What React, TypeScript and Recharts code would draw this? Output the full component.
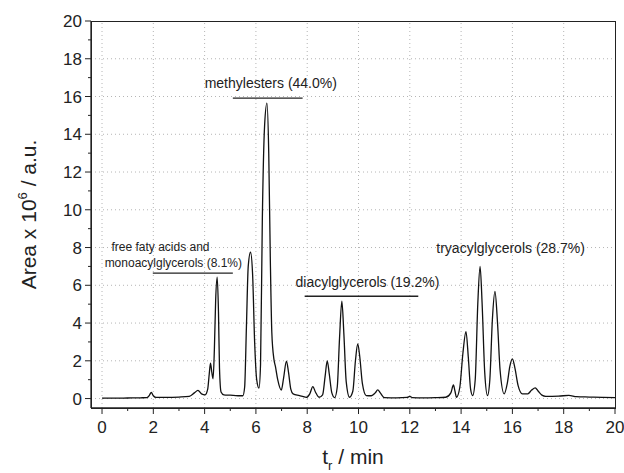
import React from 'react';
import {
  LineChart,
  Line,
  XAxis,
  YAxis,
  ReferenceLine,
  ReferenceDot,
} from 'recharts';

// chromatogram trace: retention time (min) and area (x10^6)
const time = [
  0.0, 0.5, 1.0, 1.5, 1.75, 1.85, 1.92, 2.0, 2.1, 2.5, 3.0, 3.4, 3.6, 3.74, 3.88, 4.02,
  4.12, 4.18, 4.23, 4.28, 4.33, 4.38, 4.43, 4.49, 4.54, 4.58, 4.64, 4.75, 5.0, 5.3, 5.49,
  5.56, 5.63, 5.7, 5.79, 5.87, 5.95, 6.03, 6.12, 6.18, 6.25, 6.34, 6.43, 6.5, 6.56, 6.62,
  6.7, 6.76, 6.85, 6.99, 7.08, 7.19, 7.27, 7.36, 7.45, 7.7, 7.85, 7.96, 8.1, 8.22, 8.32,
  8.46, 8.6, 8.7, 8.78, 8.86, 8.96, 9.07, 9.17, 9.26, 9.35, 9.43, 9.52, 9.65, 9.78, 9.88,
  9.97, 10.05, 10.15, 10.3, 10.5, 10.65, 10.75, 10.85, 11.01, 11.5, 11.9, 12.0, 12.1, 12.5,
  13.0, 13.4, 13.6, 13.7, 13.76, 13.82, 13.95, 14.07, 14.19, 14.28, 14.37, 14.45, 14.55,
  14.65, 14.74, 14.82, 14.92, 15.03, 15.12, 15.22, 15.32, 15.42, 15.52, 15.68, 15.8, 15.9,
  16.0, 16.1, 16.22, 16.39, 16.6, 16.75, 16.89, 17.0, 17.15, 17.3, 17.8, 18.2, 18.5, 19.0,
  19.5, 20.0,
];
const signal = [
  0.02, 0.02, 0.03, 0.04, 0.05, 0.18, 0.33, 0.15, 0.06, 0.06, 0.08, 0.12, 0.3, 0.43, 0.25, 0.2,
  0.5, 1.3, 1.87, 1.4, 1.05, 2.6, 5.2, 6.43, 4.6, 1.6, 0.35, 0.2, 0.18, 0.15, 0.15,
  0.6, 3.8, 7.0, 7.75, 6.6, 3.0, 1.0, 0.55, 1.8, 9.5, 14.5, 15.65, 13.0, 7.5, 3.5,
  2.1, 1.7, 1.0, 0.45, 1.1, 1.98, 1.4, 0.5, 0.25, 0.16, 0.1, 0.06, 0.25, 0.63, 0.35,
  0.07, 0.2, 1.2, 2.0, 1.3, 0.3, 0.05, 0.6, 3.2, 5.16, 3.4, 0.9, 0.07, 0.4, 2.0,
  2.9, 2.2, 0.8, 0.16, 0.15, 0.3, 0.46, 0.3, 0.05, 0.04, 0.06, 0.12, 0.05, 0.04,
  0.05, 0.07, 0.3, 0.72, 0.4, 0.07, 0.6, 2.4, 3.55, 2.2, 0.5, 0.16, 1.0,
  5.0, 7.0, 5.0, 1.4, 0.16, 1.0, 4.2, 5.67, 4.0, 1.5, 0.25, 0.8, 1.7,
  2.1, 1.6, 0.7, 0.25, 0.25, 0.45, 0.57, 0.4, 0.18, 0.12, 0.13, 0.17, 0.1, 0.08,
  0.06, 0.05,
];

const xTicks = [0, 1, 2, 3, 4, 5, 6, 7, 8, 9, 10, 11, 12, 13, 14, 15, 16, 17, 18, 19, 20];
const yTicks = [0, 1, 2, 3, 4, 5, 6, 7, 8, 9, 10, 11, 12, 13, 14, 15, 16, 17, 18, 19, 20];
const xGrid = [0, 2, 4, 6, 8, 10, 12, 14, 16, 18];
const yGrid = [0, 2, 4, 6, 8, 10, 12, 14, 16, 18];
const xDomain = [-0.43, 20];
const yDomain = [-0.5, 20];

// group brackets under the labels
const groupLines = [
  { x1: 5.1, x2: 7.82, y: 15.91 },
  { x1: 1.98, x2: 5.1, y: 6.64 },
  { x1: 7.9, x2: 12.33, y: 5.42 },
];
const groupLabels = [
  { text: 'methylesters (44.0%)', x: 6.58, y: 16.72, size: 14 },
  { text: 'free faty acids and', x: 2.28, y: 8.05, size: 12 },
  { text: 'monoacylglycerols (8.1%)', x: 2.78, y: 7.2, size: 12 },
  { text: 'diacylglycerols (19.2%)', x: 10.35, y: 6.15, size: 14 },
  { text: 'tryacylglycerols (28.7%)', x: 15.93, y: 8.0, size: 14 },
];

const data = time.map((t, i) => ({ t, y: signal[i] }));

const FONT = '"Liberation Sans", Arial, sans-serif';
const INK = '#222';

// chart box and plot margins (plot area = frame)
const W = 624;
const H = 473;
const M = { top: 21, right: 9, left: 24, bottom: 25 };
const Y_AXIS_W = 67;
const X_AXIS_H = 40;

const BottomTick = ({ x, y, payload }: any) => {
  const major = payload.value % 2 === 0;
  return (
    <g>
      <line x1={x} x2={x} y1={y} y2={y + (major ? 6 : 3)} stroke={INK} />
      {major && (
        <text x={x} y={y + 25} textAnchor="middle" fontSize={17} fontFamily={FONT} fill={INK}>
          {payload.value}
        </text>
      )}
    </g>
  );
};

const LeftTick = ({ x, y, payload }: any) => {
  const major = payload.value % 2 === 0;
  return (
    <g>
      <line x1={x - (major ? 6 : 3)} x2={x} y1={y} y2={y} stroke={INK} />
      {major && (
        <text x={x - 9} y={y + 6} textAnchor="end" fontSize={17} fontFamily={FONT} fill={INK}>
          {payload.value}
        </text>
      )}
    </g>
  );
};

const XTitle = ({ viewBox }: any) => (
  <text
    x={viewBox.x + viewBox.width / 2}
    y={viewBox.y + 56}
    textAnchor="middle"
    fontSize={21}
    fontFamily={FONT}
    fill={INK}
  >
    <tspan>t</tspan>
    <tspan dy={6} fontSize={13}>r</tspan>
    <tspan dy={-6}> / min</tspan>
  </text>
);

const YTitle = ({ viewBox }: any) => {
  const cx = viewBox.x + 12;
  const cy = viewBox.y + viewBox.height / 2;
  return (
    <text
      x={cx}
      y={cy}
      transform={`rotate(-90, ${cx}, ${cy})`}
      textAnchor="middle"
      fontSize={21}
      fontFamily={FONT}
      fill={INK}
    >
      <tspan>Area x 10</tspan>
      <tspan dy={-9} fontSize={13}>6</tspan>
      <tspan dy={9}> / a.u.</tspan>
    </text>
  );
};

const App = () => {
  const plotLeft = M.left + Y_AXIS_W;
  const plotW = W - plotLeft - M.right;
  const plotH = H - M.top - M.bottom - X_AXIS_H;
  return (
    <div style={{ position: 'absolute', left: 0, top: 0, width: W, height: H, background: '#fff' }}>
      <LineChart width={W} height={H} data={data} margin={M}>
        <XAxis
          dataKey="t"
          type="number"
          domain={xDomain}
          ticks={xTicks}
          interval={0}
          tickSize={0}
          tickMargin={0}
          tickLine={false}
          tick={<BottomTick />}
          height={X_AXIS_H}
          axisLine={{ stroke: INK, strokeWidth: 1.3 }}
          label={<XTitle />}
        />
        <YAxis
          type="number"
          domain={yDomain}
          ticks={yTicks}
          interval={0}
          tickSize={0}
          tickMargin={0}
          tickLine={false}
          tick={<LeftTick />}
          width={Y_AXIS_W}
          axisLine={{ stroke: INK, strokeWidth: 1.3 }}
          label={<YTitle />}
        />
        {xGrid.map((v) => (
          <ReferenceLine key={`gx${v}`} x={v} stroke="#b5b5b5" strokeDasharray="1 3" />
        ))}
        {yGrid.map((v) => (
          <ReferenceLine key={`gy${v}`} y={v} stroke="#b5b5b5" strokeDasharray="1 3" />
        ))}
        <Line
          type="monotone"
          dataKey="y"
          stroke="#111"
          strokeWidth={1.3}
          dot={false}
          isAnimationActive={false}
        />
        {groupLines.map((g, i) => (
          <ReferenceLine
            key={`gl${i}`}
            segment={[{ x: g.x1, y: g.y }, { x: g.x2, y: g.y }]}
            stroke={INK}
            strokeWidth={1.3}
          />
        ))}
        {groupLabels.map((g, i) => (
          <ReferenceDot
            key={`lb${i}`}
            x={g.x}
            y={g.y}
            r={0}
            shape={(p: any) => (
              <text
                x={p.cx}
                y={p.cy}
                textAnchor="middle"
                dominantBaseline="central"
                fontSize={g.size}
                fontFamily={FONT}
                fill={INK}
              >
                {g.text}
              </text>
            )}
          />
        ))}
      </LineChart>
      {/* plot frame */}
      <div
        style={{
          position: 'absolute',
          left: plotLeft - 0.5,
          top: M.top - 0.5,
          width: plotW + 1,
          height: plotH + 1,
          border: `1.3px solid ${INK}`,
          boxSizing: 'border-box',
          pointerEvents: 'none',
        }}
      />
    </div>
  );
};

export default App;
